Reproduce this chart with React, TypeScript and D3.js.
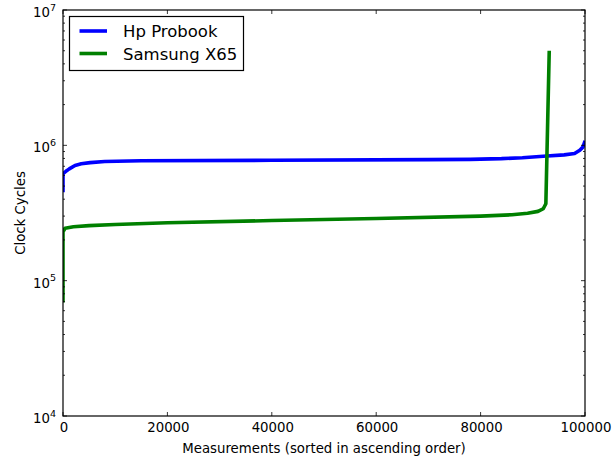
import * as d3 from "d3";
import { useEffect, useRef } from "react";

const hpX = [0, 0, 300, 700, 1200, 2300, 3500, 5200, 8000, 15000, 40000, 70000, 78000, 84000, 88000, 92000, 96000, 98000, 99000, 99600, 99900, 100000];
const hpY = [4.5e5, 6.2e5, 6.3e5, 6.5e5, 6.7e5, 7.1e5, 7.3e5, 7.45e5, 7.6e5, 7.7e5, 7.75e5, 7.84e5, 7.88e5, 7.97e5, 8.1e5, 8.3e5, 8.5e5, 8.7e5, 9.2e5, 9.7e5, 1.05e6, 1.08e6];

const samsungX = [0, 0, 400, 2000, 5000, 10000, 20000, 40000, 60000, 80000, 86000, 89000, 91000, 92000, 92500, 92850, 93150];
const samsungY = [6.9e4, 2.3e5, 2.44e5, 2.5e5, 2.55e5, 2.6e5, 2.68e5, 2.78e5, 2.88e5, 3.0e5, 3.07e5, 3.15e5, 3.25e5, 3.4e5, 3.7e5, 1.5e6, 5.0e6];

const seriesNames = ["Hp Probook", "Samsung X65"];
const seriesColors = ["#0000ff", "#008000"];

const xTicks = [0, 20000, 40000, 60000, 80000, 100000];
const yExponents = [4, 5, 6, 7];

export default function App() {
  const ref = useRef<SVGSVGElement | null>(null);

  useEffect(() => {
    const el = ref.current;
    if (!el) return;
    const width = 612;
    const height = 460;
    const margin = { top: 10, right: 27, bottom: 44, left: 63 };
    const font = "DejaVu Sans, sans-serif";

    const svg = d3.select(el);
    svg.selectAll("*").remove();
    svg.attr("width", width).attr("height", height).attr("viewBox", `0 0 ${width} ${height}`);

    svg.append("rect").attr("width", width).attr("height", height).attr("fill", "#ffffff");

    const x = d3.scaleLinear().domain([0, 100000]).range([margin.left, width - margin.right]);
    const y = d3.scaleLog().domain([1e4, 1e7]).range([height - margin.bottom, margin.top]);

    const x0 = margin.left;
    const x1 = width - margin.right;
    const y0 = height - margin.bottom;
    const y1 = margin.top;

    const plot = svg.append("g");
    const clipId = "plot-clip";
    svg
      .append("clipPath")
      .attr("id", clipId)
      .append("rect")
      .attr("x", x0)
      .attr("y", y1)
      .attr("width", x1 - x0)
      .attr("height", y0 - y1);

    const line = d3
      .line<[number, number]>()
      .x((d) => x(d[0]))
      .y((d) => y(d[1]));

    const series: [number, number][][] = [
      hpX.map((v, i) => [v, hpY[i]]),
      samsungX.map((v, i) => [v, samsungY[i]]),
    ];

    series.forEach((pts, i) => {
      plot
        .append("path")
        .attr("d", line(pts))
        .attr("fill", "none")
        .attr("stroke", seriesColors[i])
        .attr("stroke-width", 3.6)
        .attr("stroke-linejoin", "round")
        .attr("clip-path", `url(#${clipId})`);
    });

    // ticks (inward, all four sides)
    const ticks = svg.append("g").attr("stroke", "#000").attr("stroke-width", 0.8);
    xTicks.forEach((t) => {
      const px = x(t);
      ticks.append("line").attr("x1", px).attr("x2", px).attr("y1", y0).attr("y2", y0 - 4);
      ticks.append("line").attr("x1", px).attr("x2", px).attr("y1", y1).attr("y2", y1 + 4);
    });
    yExponents.forEach((e) => {
      const py = y(Math.pow(10, e));
      ticks.append("line").attr("x1", x0).attr("x2", x0 + 4).attr("y1", py).attr("y2", py);
      ticks.append("line").attr("x1", x1).attr("x2", x1 - 4).attr("y1", py).attr("y2", py);
      if (e < 7) {
        for (let m = 2; m <= 9; m++) {
          const pm = y(m * Math.pow(10, e));
          ticks.append("line").attr("x1", x0).attr("x2", x0 + 2).attr("y1", pm).attr("y2", pm);
          ticks.append("line").attr("x1", x1).attr("x2", x1 - 2).attr("y1", pm).attr("y2", pm);
        }
      }
    });

    // frame
    svg
      .append("rect")
      .attr("x", x0)
      .attr("y", y1)
      .attr("width", x1 - x0)
      .attr("height", y0 - y1)
      .attr("fill", "none")
      .attr("stroke", "#000")
      .attr("stroke-width", 1.2);

    // tick labels
    xTicks.forEach((t) => {
      svg
        .append("text")
        .attr("x", x(t) + 1)
        .attr("y", y0 + 16)
        .attr("text-anchor", "middle")
        .attr("font-family", font)
        .attr("font-size", 13.3)
        .attr("fill", "#000")
        .text(String(t));
    });
    yExponents.forEach((e) => {
      const t = svg
        .append("text")
        .attr("x", 56)
        .attr("y", y(Math.pow(10, e)) + 7)
        .attr("text-anchor", "end")
        .attr("font-family", font)
        .attr("font-size", 13.3)
        .attr("fill", "#000");
      t.append("tspan").text("10");
      t.append("tspan").attr("dy", -6.5).attr("font-size", 9.5).text(String(e));
    });

    // axis labels
    svg
      .append("text")
      .attr("x", (x0 + x1) / 2)
      .attr("y", 453)
      .attr("text-anchor", "middle")
      .attr("font-family", font)
      .attr("font-size", 13.3)
      .attr("fill", "#000")
      .text("Measurements (sorted in ascending order)");
    svg
      .append("text")
      .attr("transform", `translate(24.5,${(y0 + y1) / 2}) rotate(-90)`)
      .attr("text-anchor", "middle")
      .attr("font-family", font)
      .attr("font-size", 13.3)
      .attr("fill", "#000")
      .text("Clock Cycles");

    // legend
    const lg = svg.append("g");
    lg.append("rect")
      .attr("x", 69.5)
      .attr("y", 16.5)
      .attr("width", 174)
      .attr("height", 54)
      .attr("fill", "#fff")
      .attr("stroke", "#000")
      .attr("stroke-width", 1.2);
    seriesNames.forEach((name, i) => {
      const ly = 31 + i * 22.5;
      lg.append("line")
        .attr("x1", 79.5)
        .attr("x2", 107)
        .attr("y1", ly)
        .attr("y2", ly)
        .attr("stroke", seriesColors[i])
        .attr("stroke-width", 3.6);
      lg.append("text")
        .attr("x", 123)
        .attr("y", ly + 6)
        .attr("font-family", font)
        .attr("font-size", 16.5)
        .attr("fill", "#000")
        .text(name);
    });
  }, []);

  return <svg ref={ref} style={{ position: "absolute", left: 0, top: 0, display: "block" }} />;
}
